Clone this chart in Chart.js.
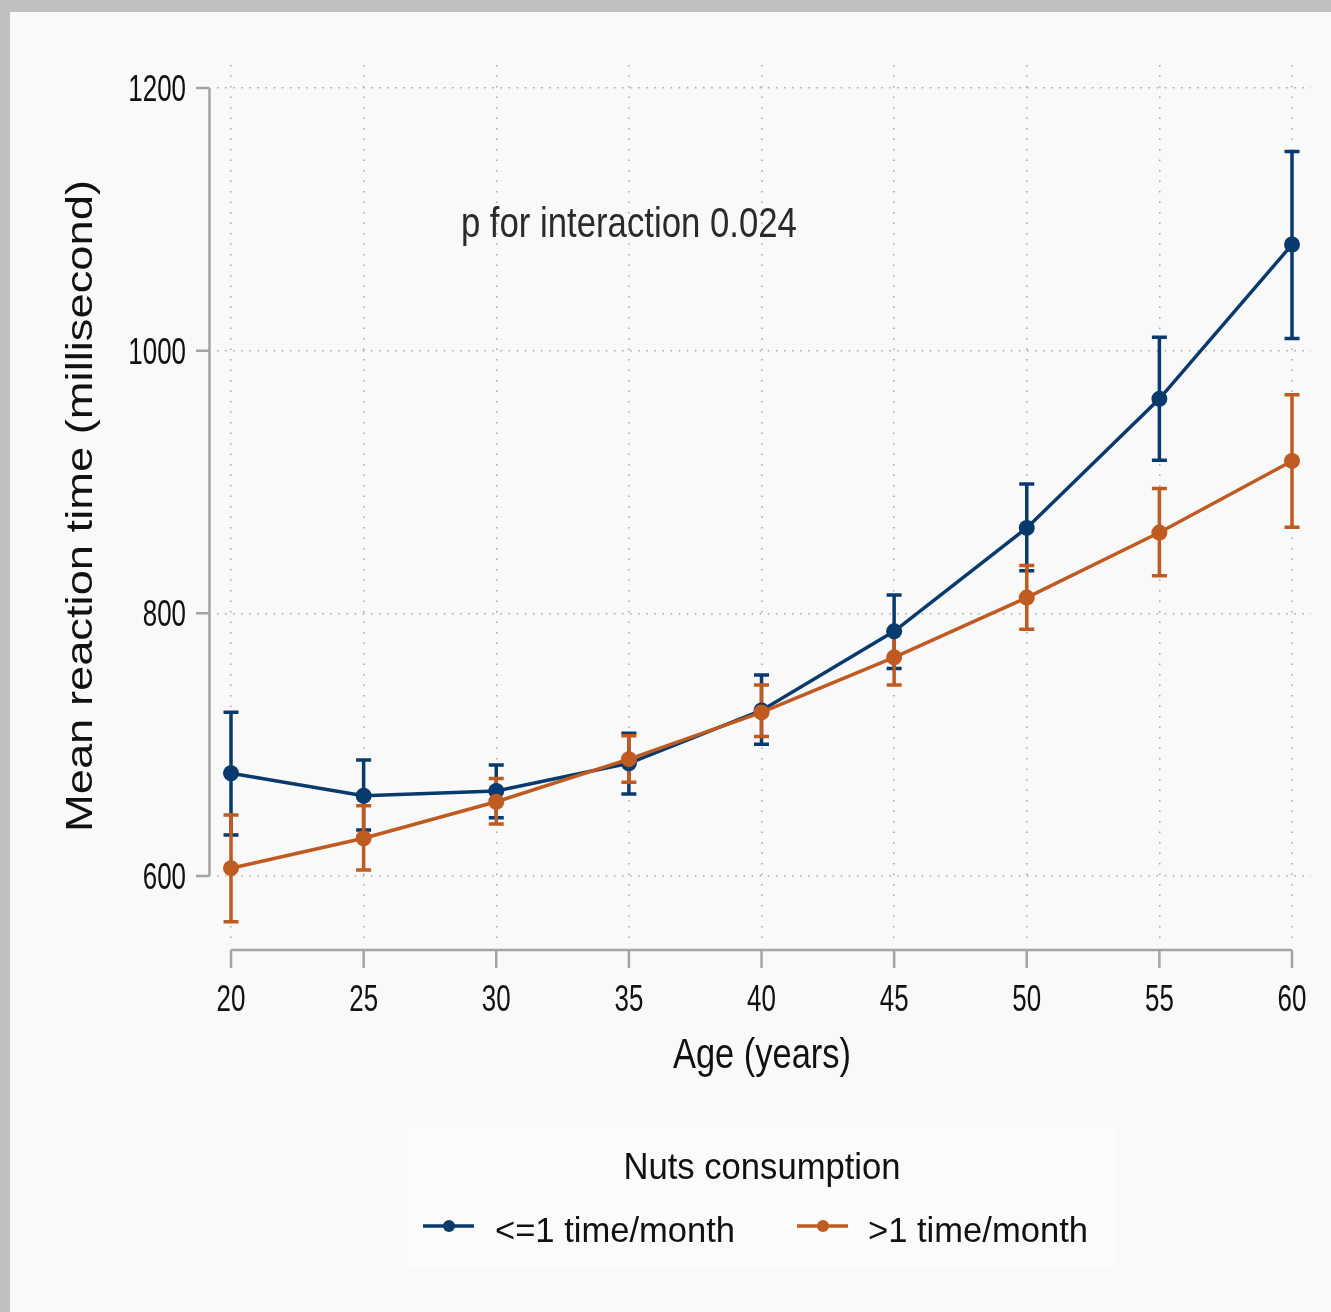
<!DOCTYPE html>
<html>
<head>
<meta charset="utf-8">
<title>Mean reaction time by age and nuts consumption</title>
<script src="https://cdn.jsdelivr.net/npm/chart.js@4.4.1/dist/chart.umd.min.js"></script>
<style>
  body { margin: 0; background: #c0c0c0; }
  canvas { display: block; }
</style>
</head>
<body>
<canvas id="chart" width="1331" height="1312"></canvas>
<script>
// data
var ages = [20, 25, 30, 35, 40, 45, 50, 55, 60];
var lowMean = [678.2, 661.1, 664.7, 685.8, 726.0, 786.3, 865.0, 963.3, 1080.8];
var lowLo   = [631.2, 635.0, 644.3, 662.4, 700.3, 758.0, 832.4, 916.6, 1009.3];
var lowHi   = [724.6, 688.3, 684.5, 708.6, 753.1, 814.0, 898.5, 1010.2, 1151.6];
var highMean = [605.9, 628.7, 656.5, 688.9, 724.5, 766.5, 812.0, 861.5, 916.0];
var highLo   = [565.2, 604.6, 639.6, 671.4, 706.1, 745.5, 787.8, 828.6, 865.6];
var highHi   = [646.4, 653.5, 674.3, 706.8, 745.4, 787.5, 836.4, 895.0, 966.5];
var xTicks = [20, 25, 30, 35, 40, 45, 50, 55, 60];
var yTicks = [600, 800, 1000, 1200];
var seriesNames = ["<=1 time/month", ">1 time/month"];

var blue = "#093a6d";
var orange = "#bf5a20";
var axisGray = "#a4a4a4";
var gridGray = "#a8a8a8";
var sans = "'Liberation Sans', Arial, sans-serif";

function toPoints(xs, ys) {
  return xs.map(function (x, i) { return { x: x, y: ys[i] }; });
}

// draw text squeezed to a target width (or by a fixed factor k)
function fitText(ctx, text, x, y, size, width, align, color, k) {
  ctx.save();
  ctx.font = size + "px " + sans;
  ctx.fillStyle = color;
  ctx.textAlign = "left";
  ctx.textBaseline = "alphabetic";
  var w = ctx.measureText(text).width;
  if (width) k = width / w;
  var full = w * k;
  var left = x;
  if (align === "center") left = x - full / 2;
  if (align === "right") left = x - full;
  ctx.translate(left, y);
  ctx.scale(k, 1);
  ctx.fillText(text, 0, 0);
  ctx.restore();
}

var backdrop = {
  id: "backdrop",
  beforeDraw: function (chart) {
    var ctx = chart.ctx;
    ctx.save();
    ctx.fillStyle = "#c0c0c0";
    ctx.fillRect(0, 0, chart.width, chart.height);
    ctx.fillStyle = "#f9f9f9";
    ctx.fillRect(10, 12, chart.width - 10, chart.height - 12);
    ctx.restore();
  }
};

var axesAndBars = {
  id: "axesAndBars",
  beforeDatasetsDraw: function (chart) {
    var ctx = chart.ctx;
    var xs = chart.scales.x, ys = chart.scales.y;
    ctx.save();
    ctx.strokeStyle = axisGray;
    ctx.lineWidth = 2.5;
    ctx.lineCap = "butt";
    // y axis
    var ax = 209.5;
    ctx.beginPath();
    ctx.moveTo(ax, ys.getPixelForValue(yTicks[0]));
    ctx.lineTo(ax, ys.getPixelForValue(yTicks[yTicks.length - 1]));
    yTicks.forEach(function (v) {
      var py = ys.getPixelForValue(v);
      ctx.moveTo(ax, py);
      ctx.lineTo(196, py);
    });
    ctx.stroke();
    // x axis
    var ay = 950;
    ctx.beginPath();
    ctx.moveTo(xs.getPixelForValue(xTicks[0]), ay);
    ctx.lineTo(xs.getPixelForValue(xTicks[xTicks.length - 1]), ay);
    xTicks.forEach(function (v) {
      var px = xs.getPixelForValue(v);
      ctx.moveTo(px, ay);
      ctx.lineTo(px, 968);
    });
    ctx.stroke();
    ctx.restore();

    // tick labels
    yTicks.forEach(function (v) {
      fitText(ctx, String(v), 186, ys.getPixelForValue(v) + 13, 36, null, "right", "#111", 0.72);
    });
    xTicks.forEach(function (v) {
      fitText(ctx, String(v), xs.getPixelForValue(v), 1010.5, 36, null, "center", "#111", 0.72);
    });

    // error bars: blue first, orange on top
    ctx.save();
    [[lowLo, lowHi, blue], [highLo, highHi, orange]].forEach(function (s) {
      ctx.strokeStyle = s[2];
      ctx.lineWidth = 3.5;
      ctx.beginPath();
      ages.forEach(function (a, i) {
        var px = xs.getPixelForValue(a);
        var p1 = ys.getPixelForValue(s[0][i]);
        var p2 = ys.getPixelForValue(s[1][i]);
        ctx.moveTo(px, p1);
        ctx.lineTo(px, p2);
        ctx.moveTo(px - 7.5, p1);
        ctx.lineTo(px + 7.5, p1);
        ctx.moveTo(px - 7.5, p2);
        ctx.lineTo(px + 7.5, p2);
      });
      ctx.stroke();
    });
    ctx.restore();
  },
  afterDraw: function (chart) {
    var ctx = chart.ctx;
    var xs = chart.scales.x;

    // annotation
    fitText(ctx, "p for interaction 0.024", xs.getPixelForValue(35), 236.5, 43, 336, "center", "#2a2a2a");

    // axis titles
    fitText(ctx, "Age (years)", 762, 1068, 42, 178, "center", "#111");
    ctx.save();
    ctx.translate(92, 506);
    ctx.rotate(-Math.PI / 2);
    fitText(ctx, "Mean reaction time (millisecond)", 0, 0, 37, 652, "center", "#111");
    ctx.restore();

    // legend
    ctx.save();
    ctx.fillStyle = "#fbfbfb";
    ctx.fillRect(408, 1122, 707, 146);
    ctx.restore();
    fitText(ctx, "Nuts consumption", 762, 1179, 37, 277, "center", "#111");
    var items = [[423, 495, 240, blue], [797, 868, 220, orange]];
    items.forEach(function (it, k) {
      ctx.save();
      ctx.strokeStyle = it[3];
      ctx.fillStyle = it[3];
      ctx.lineWidth = 3.5;
      ctx.beginPath();
      ctx.moveTo(it[0], 1226);
      ctx.lineTo(it[0] + 51, 1226);
      ctx.stroke();
      ctx.beginPath();
      ctx.arc(it[0] + 26, 1226, 6, 0, Math.PI * 2);
      ctx.fill();
      ctx.restore();
      fitText(ctx, seriesNames[k], it[1], 1242, 35, it[2], "left", "#111");
    });
  }
};

var config = {
  type: "line",
  data: {
    datasets: [
      {
        label: seriesNames[0],
        data: toPoints(ages, lowMean),
        borderColor: blue,
        backgroundColor: blue,
        borderWidth: 3.5,
        pointRadius: 8,
        pointBorderWidth: 0,
        pointBackgroundColor: blue,
        tension: 0,
        order: 2
      },
      {
        label: seriesNames[1],
        data: toPoints(ages, highMean),
        borderColor: orange,
        backgroundColor: orange,
        borderWidth: 3.5,
        pointRadius: 8,
        pointBorderWidth: 0,
        pointBackgroundColor: orange,
        tension: 0,
        order: 1
      }
    ]
  },
  options: {
    responsive: false,
    animation: false,
    layout: { padding: { left: 0, right: 20, top: 65, bottom: 0 } },
    plugins: {
      legend: { display: false },
      tooltip: { enabled: false }
    },
    scales: {
      x: {
        type: "linear",
        min: 19.472,
        max: 60.716,
        afterBuildTicks: function (s) {
          s.ticks = xTicks.map(function (v) { return { value: v }; });
        },
        afterFit: function (s) { s.height = 373; },
        grid: { color: gridGray, lineWidth: 1.5, drawTicks: false },
        border: { display: false, dash: [1.5, 9] },
        ticks: { display: false }
      },
      y: {
        type: "linear",
        min: 552,
        max: 1217.5,
        afterBuildTicks: function (s) {
          s.ticks = yTicks.map(function (v) { return { value: v }; });
        },
        afterFit: function (s) { s.width = 217; },
        grid: { color: gridGray, lineWidth: 1.5, drawTicks: false },
        border: { display: false, dash: [1.5, 6.6] },
        ticks: { display: false }
      }
    }
  },
  plugins: [backdrop, axesAndBars]
};

var chart = new Chart(document.getElementById("chart"), config);
</script>
</body>
</html>
